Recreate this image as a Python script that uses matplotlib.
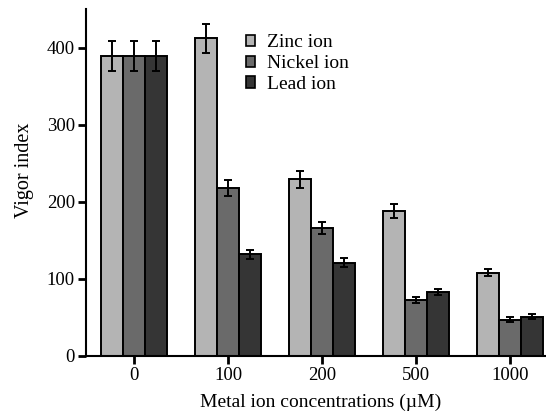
import numpy as np
import matplotlib
matplotlib.use('Agg')
import matplotlib.pyplot as plt
from matplotlib.patches import Patch

plt.rcParams['font.family'] = ['Liberation Serif', 'DejaVu Serif']

concs = ['0', '100', '200', '500', '1000']
series = ['Zinc ion', 'Nickel ion', 'Lead ion']
zinc = [389, 412, 229, 188, 108]
zinc_err = [20, 19, 11, 9, 4.5]
nickel = [389, 218, 166, 73, 47]
nickel_err = [20, 10, 8, 4, 3]
lead = [389, 132, 121, 83, 51]
lead_err = [20, 6, 6, 4, 3]

colors = ['#b4b4b4', '#6a6a6a', '#353535']

fig = plt.figure(figsize=(5.46, 4.11), dpi=100)
ax = fig.add_axes([0.1575, 0.134, 0.8425, 0.844])

x = np.arange(len(concs))
w = 0.235
for i, (vals, errs) in enumerate([(zinc, zinc_err), (nickel, nickel_err), (lead, lead_err)]):
    ax.bar(x + (i - 1) * w, vals, w, yerr=errs, color=colors[i], edgecolor='black',
           linewidth=1.4, capsize=3.2, error_kw=dict(elinewidth=1.4, capthick=1.4, ecolor='black'),
           zorder=2)

ax.set_xlim(-0.51, 4.38)
ax.set_ylim(0, 450)
ax.set_xticks(x)
ax.set_xticklabels(concs)
ax.set_yticks([0, 100, 200, 300, 400])
ax.tick_params(axis='both', direction='out', length=6, width=2, labelsize=13.5, pad=2)
for s in ['top', 'right']:
    ax.spines[s].set_visible(False)
for s in ['left', 'bottom']:
    ax.spines[s].set_linewidth(1.5)

ax.set_ylabel('Vigor index', fontsize=14.5)
ax.yaxis.set_label_coords(-0.112, 0.536)
ax.set_xlabel('Metal ion concentrations (\u00b5M)', fontsize=14, labelpad=6)
ax.xaxis.set_label_coords(0.509, -0.11)

handles = [Patch(facecolor=c, edgecolor='black', linewidth=1.2) for c in colors]
ax.legend(handles, series, loc='upper left', bbox_to_anchor=(0.33, 0.95), frameon=False,
          fontsize=14, handlelength=0.5, handleheight=0.5, handletextpad=0.6,
          labelspacing=0.2, borderaxespad=0)

fig.savefig('out.png', dpi=100, facecolor='white')
